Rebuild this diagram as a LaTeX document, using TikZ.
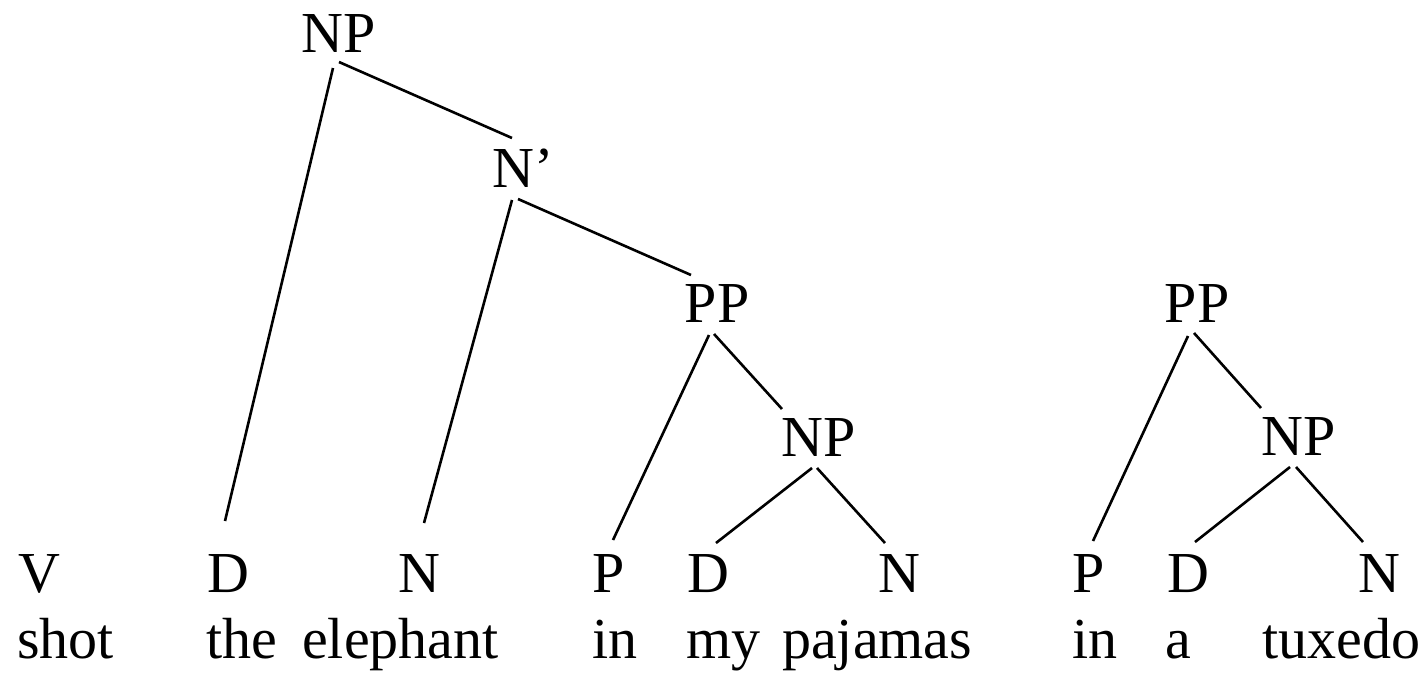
\documentclass[tikz,border=0pt]{standalone}
\usepackage{fontspec}
\setmainfont{Liberation Serif}
\usepackage{tikz}
\usetikzlibrary{calc, positioning}

\begin{document}
\begin{tikzpicture}[
  x=1pt, y=-1pt,
  font=\fontsize{58}{70}\selectfont,
  phrase/.style={inner sep=0pt, anchor=base},
  cat/.style={inner sep=0pt, anchor=base west},
  word/.style={inner sep=0pt, anchor=base west},
  branch/.style={draw=black, line width=2.6pt}
]
\useasboundingbox (0,0) rectangle (1426,673);

% --- Phrasen oben ---
\node[phrase] (np)     at (339,52)  {NP};
\node[cat]    (nbar)   at (492,187) {N’};
\node[phrase] (pp)     at (717,322) {PP};
\node[phrase] (npobj)  at (819,456) {NP};
\node[phrase] (ppalt)  at (1197,322) {PP};
\node[phrase] (npalt)  at (1299,455) {NP};

% --- Kategorien ---
\node[cat] (v)       at (18,592)   {V};
\node[cat] (det)     at (207,592)  {D};
\node[cat] (noun)    at (398,592)  {N};
\node[cat] (prep)    at (592,592)  {P};
\node[cat] (detmy)   at (687,592)  {D};
\node[cat] (nounpaj) at (878,592)  {N};
\node[cat] (prepalt) at (1072,592) {P};
\node[cat] (detalt)  at (1167,592) {D};
\node[cat] (nounalt) at (1358,592) {N};

% --- Woerter ---
\node[word] (shot)     at (17,658)   {shot};
\node[word] (the)      at (206,658)  {the};
\node[word] (elephant) at (302,658)  {elephant};
\node[word] (in)       at (592,658)  {in};
\node[word] (my)       at (686,658)  {my};
\node[word] (pajamas)  at (782,658)  {pajamas};
\node[word] (inalt)    at (1072,658) {in};
\node[word] (a)        at (1165,658) {a};
\node[word] (tuxedo)   at (1262,658) {tuxedo};

% Verbindungen
\draw[branch] ([shift={(-6,16)}]np.base) -- ([shift={(18,-71)}]det.base west);
\draw[branch] ([shift={(0,10)}]np.base) -- ([shift={(20,-49)}]nbar.base west);
\draw[branch] ([shift={(20,13)}]nbar.base west) -- ([shift={(26,-69)}]noun.base west);
\draw[branch] ([shift={(26,12)}]nbar.base west) -- ([shift={(-26,-47)}]pp.base);
\draw[branch] ([shift={(-8,13)}]pp.base) -- ([shift={(21,-52)}]prep.base west);
\draw[branch] ([shift={(-3,12)}]pp.base) -- ([shift={(-37,-47)}]npobj.base);
\draw[branch] ([shift={(-7,12)}]npobj.base) -- ([shift={(29,-49)}]detmy.base west);
\draw[branch] ([shift={(-2,12)}]npobj.base) -- ([shift={(7,-49)}]nounpaj.base west);

% rechter Baum
\draw[branch] ([shift={(-9,14)}]ppalt.base) -- ([shift={(21,-51)}]prepalt.base west);
\draw[branch] ([shift={(-3,11)}]ppalt.base) -- ([shift={(-38,-47)}]npalt.base);
\draw[branch] ([shift={(-9,12)}]npalt.base) -- ([shift={(28,-50)}]detalt.base west);
\draw[branch] ([shift={(-3,12)}]npalt.base) -- ([shift={(5,-50)}]nounalt.base west);
\end{tikzpicture}
\end{document}
